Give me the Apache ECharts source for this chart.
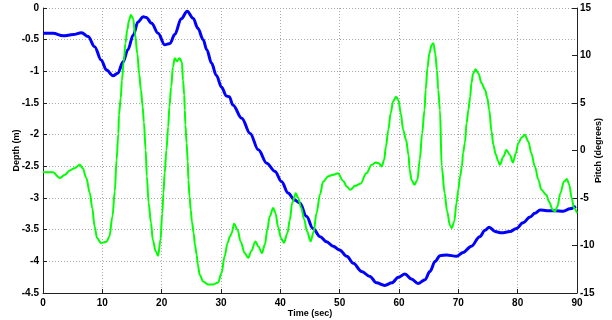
<!DOCTYPE html>
<html>
<head>
<meta charset="utf-8">
<script src="https://cdn.jsdelivr.net/npm/echarts/dist/echarts.min.js"></script>
<style>
html,body{margin:0;padding:0;background:#fff;}
#c{width:612px;height:320px;}
</style>
</head>
<body>
<div id="c"></div>
<script>
// Depth (m) vs time (sec) - blue
const depthTime = [0, 1.7, 3.4, 5.1, 6.5, 7.6, 8.7, 9.8, 10.7, 11.8, 12.6, 13.5, 14.3, 15.2, 16.0, 16.9, 17.4, 18.3, 19.4, 20.5, 21.4, 22.2, 23.3, 24.3, 25.3, 26.1, 27.0, 27.6, 28.4, 29.2, 30.1, 30.9, 31.4, 32.0, 33.5, 34.9, 36.3, 37.7, 39.1, 40.2, 41.3, 42.4, 43.3, 44.4, 45.5, 46.7, 47.8, 48.9, 50.0, 51.2, 52.3, 53.7, 55.1, 56.2, 57.6, 58.8, 59.9, 61.0, 62.1, 63.2, 64.4, 65.2, 66.1, 66.9, 68.0, 69.7, 70.8, 72.2, 73.6, 74.5, 75.2, 76.2, 77.3, 78.7, 79.8, 80.9, 82.1, 82.9, 83.8, 84.9, 86.3, 87.7, 88.8, 89.8];
const depthVal = [-0.40, -0.40, -0.44, -0.42, -0.39, -0.45, -0.61, -0.82, -0.98, -1.07, -1.03, -0.85, -0.66, -0.43, -0.22, -0.14, -0.15, -0.24, -0.40, -0.58, -0.56, -0.42, -0.17, -0.05, -0.16, -0.32, -0.50, -0.66, -0.87, -1.06, -1.25, -1.39, -1.40, -1.53, -1.74, -1.98, -2.24, -2.45, -2.58, -2.74, -2.92, -3.03, -3.08, -3.29, -3.48, -3.61, -3.69, -3.76, -3.82, -3.92, -4.03, -4.16, -4.24, -4.34, -4.38, -4.34, -4.25, -4.20, -4.28, -4.35, -4.29, -4.16, -4.00, -3.91, -3.90, -3.92, -3.86, -3.76, -3.61, -3.51, -3.46, -3.53, -3.55, -3.53, -3.48, -3.39, -3.30, -3.24, -3.19, -3.20, -3.20, -3.21, -3.17, -3.13];

// Pitch (degrees) vs time (sec) - green
const pitchTime = [0, 1.7, 2.8, 3.7, 4.5, 5.3, 6.2, 6.7, 7.3, 7.9, 8.3, 8.7, 9.1, 9.8, 10.7, 11.2, 11.7, 12.1, 12.4, 12.7, 12.8, 13.1, 13.3, 13.6, 13.9, 14.2, 14.5, 14.8, 15.2, 15.5, 15.9, 16.2, 16.5, 16.8, 17.0, 17.3, 17.5, 17.8, 18.2, 18.5, 19.0, 19.4, 19.8, 20.1, 20.3, 20.5, 20.8, 21.1, 21.3, 21.6, 21.9, 22.2, 22.6, 23.0, 23.4, 23.6, 23.8, 23.9, 24.0, 24.2, 24.4, 24.5, 24.7, 24.9, 25.1, 25.4, 25.6, 25.9, 26.1, 26.4, 27.0, 27.8, 28.7, 29.5, 30.1, 30.6, 31.1, 31.5, 31.8, 32.2, 32.8, 33.3, 34.0, 34.6, 35.1, 35.8, 36.3, 36.9, 37.4, 37.8, 38.2, 38.8, 39.2, 39.6, 40.1, 40.6, 41.2, 41.6, 42.0, 42.6, 43.0, 43.5, 44.0, 44.5, 45.1, 45.6, 46.1, 46.7, 47.2, 48.1, 48.9, 49.7, 50.6, 51.2, 51.8, 52.6, 53.5, 54.5, 55.4, 56.1, 56.6, 57.1, 57.5, 57.8, 58.2, 58.6, 59.0, 59.5, 59.9, 60.3, 60.7, 61.2, 61.6, 61.8, 62.1, 62.6, 63.1, 63.5, 63.9, 64.3, 64.5, 64.8, 65.1, 65.5, 65.8, 66.1, 66.4, 66.6, 66.9, 67.2, 67.7, 68.1, 68.6, 68.9, 69.3, 69.7, 70.0, 70.3, 70.6, 70.8, 71.1, 71.4, 71.7, 72.0, 72.2, 72.5, 72.9, 73.4, 73.9, 74.5, 74.9, 75.2, 75.6, 75.9, 76.3, 76.7, 77.0, 77.6, 78.1, 78.7, 79.2, 79.7, 80.1, 80.7, 81.2, 81.8, 82.3, 82.9, 83.5, 84.0, 84.8, 85.3, 85.9, 86.3, 86.7, 87.2, 87.8, 88.3, 88.7, 89.1, 89.5, 90.0];
const pitchVal = [-2.3, -2.3, -2.9, -2.56, -2.1, -1.86, -1.5, -1.86, -2.9, -4.5, -6.06, -8.0, -9.2, -9.75, -9.6, -9.05, -6.95, -4.3, -0.98, 1.8, 3.75, 5.5, 7.4, 9.35, 11.3, 12.7, 13.7, 14.26, 13.9, 12.3, 10.2, 8.1, 6.4, 4.6, 3.0, 0.06, -2.7, -5.5, -7.6, -9.4, -10.6, -11.08, -9.4, -6.6, -4.5, -2.4, 0.06, 2.5, 4.6, 6.7, 8.8, 9.7, 9.4, 9.7, 9.35, 7.4, 5.85, 4.3, 2.7, 0.78, -1.16, -3.1, -4.84, -6.24, -7.5, -8.7, -9.9, -10.97, -12.0, -13.08, -13.8, -14.1, -14.1, -13.9, -12.9, -11.15, -9.75, -9.05, -8.7, -7.7, -8.35, -9.57, -10.8, -11.3, -10.6, -9.57, -10.1, -10.8, -9.9, -8.35, -6.95, -6.06, -6.6, -8.0, -9.2, -9.7, -8.7, -7.3, -5.5, -4.5, -5.0, -6.0, -7.2, -8.5, -9.55, -8.6, -6.6, -4.6, -3.3, -2.7, -2.56, -2.4, -3.2, -3.8, -4.14, -3.72, -3.5, -2.4, -1.5, -1.27, -1.35, -1.68, -0.98, 0.42, 2.17, 3.93, 5.15, 5.67, 5.3, 3.93, 2.17, 1.1, -0.47, -2.0, -3.1, -3.6, -3.1, -0.98, 1.8, 4.27, 6.4, 8.7, 10.2, 11.1, 11.3, 10.2, 8.5, 6.4, 4.27, -1.68, -4.5, -6.4, -7.9, -8.15, -7.5, -5.5, -4.1, -2.74, -1.68, -0.28, 0.77, 2.9, 4.3, 5.67, 7.1, 8.1, 8.55, 8.1, 7.1, 6.4, 5.5, 4.3, 2.0, 0.6, -0.4, -1.1, -1.5, -0.63, 0.06, -0.47, -1.27, -0.28, 0.77, 1.4, 1.65, 0.95, -0.28, -1.68, -3.1, -4.14, -4.67, -5.4, -6.24, -6.4, -5.9, -4.5, -3.27, -3.0, -3.6, -5.0, -6.06, -6.6];

const xMin = 0, xMax = 90, xStep = 10;
const depthMin = -4.5, depthMax = 0, depthStep = 0.5;
const pitchMin = -15, pitchMax = 15, pitchStep = 5;

const depthData = depthTime.map((t, i) => [t, depthVal[i]]);
const pitchData = pitchTime.map((t, i) => [t, pitchVal[i]]);

const font = 'Liberation Sans';
const labelStyle = {color: '#000', fontFamily: font, fontWeight: 'bold', fontSize: 10};
const nameStyle = {color: '#000', fontFamily: font, fontWeight: 'bold', fontSize: 9};
const gridLine = {show: true, lineStyle: {color: '#a8a8a8', type: [1, 2], width: 1}};

const chart = echarts.init(document.getElementById('c'), null, {renderer: 'canvas'});
chart.setOption({
  animation: false,
  backgroundColor: '#fff',
  grid: {left: 43, right: 35, top: 8, bottom: 27, containLabel: false, outerBoundsMode: 'none'},
  xAxis: {
    type: 'value', min: xMin, max: xMax, interval: xStep,
    name: 'Time (sec)', nameLocation: 'middle', nameGap: 16, nameMoveOverlap: false,
    nameTextStyle: nameStyle,
    axisLine: {show: true, onZero: false, lineStyle: {color: '#222'}},
    axisTick: {show: true, inside: true, length: 4, lineStyle: {color: '#222'}},
    axisLabel: Object.assign({margin: 5}, labelStyle),
    splitLine: gridLine
  },
  yAxis: [
    {
      type: 'value', min: depthMin, max: depthMax, interval: depthStep,
      position: 'left',
      name: 'Depth (m)', nameLocation: 'middle', nameGap: 22, nameRotate: 90, nameMoveOverlap: false,
      nameTextStyle: nameStyle,
      axisLine: {show: true, onZero: false, lineStyle: {color: '#222'}},
      axisTick: {show: true, inside: true, length: 4, lineStyle: {color: '#222'}},
      axisLabel: Object.assign({margin: 4}, labelStyle),
      splitLine: gridLine
    },
    {
      type: 'value', min: pitchMin, max: pitchMax, interval: pitchStep,
      position: 'right',
      name: 'Pitch (degrees)', nameLocation: 'middle', nameGap: 17, nameRotate: 90, nameMoveOverlap: false,
      nameTextStyle: nameStyle,
      axisLine: {show: true, onZero: false, lineStyle: {color: '#222'}},
      axisTick: {show: true, inside: true, length: 5, lineStyle: {color: '#222'}},
      axisLabel: Object.assign({margin: 3}, labelStyle),
      splitLine: {show: false}
    }
  ],
  series: [
    {
      type: 'line', yAxisIndex: 0, data: depthData,
      showSymbol: false, smooth: 0.35, smoothMonotone: 'x',
      lineStyle: {color: '#0000ff', width: 3},
      itemStyle: {color: '#0000ff'}, z: 2
    },
    {
      type: 'line', yAxisIndex: 1, data: pitchData,
      showSymbol: false, smooth: 0.35, smoothMonotone: 'x',
      lineStyle: {color: '#00ff00', width: 2},
      itemStyle: {color: '#00ff00'}, z: 3
    }
  ]
});
</script>
</body>
</html>
